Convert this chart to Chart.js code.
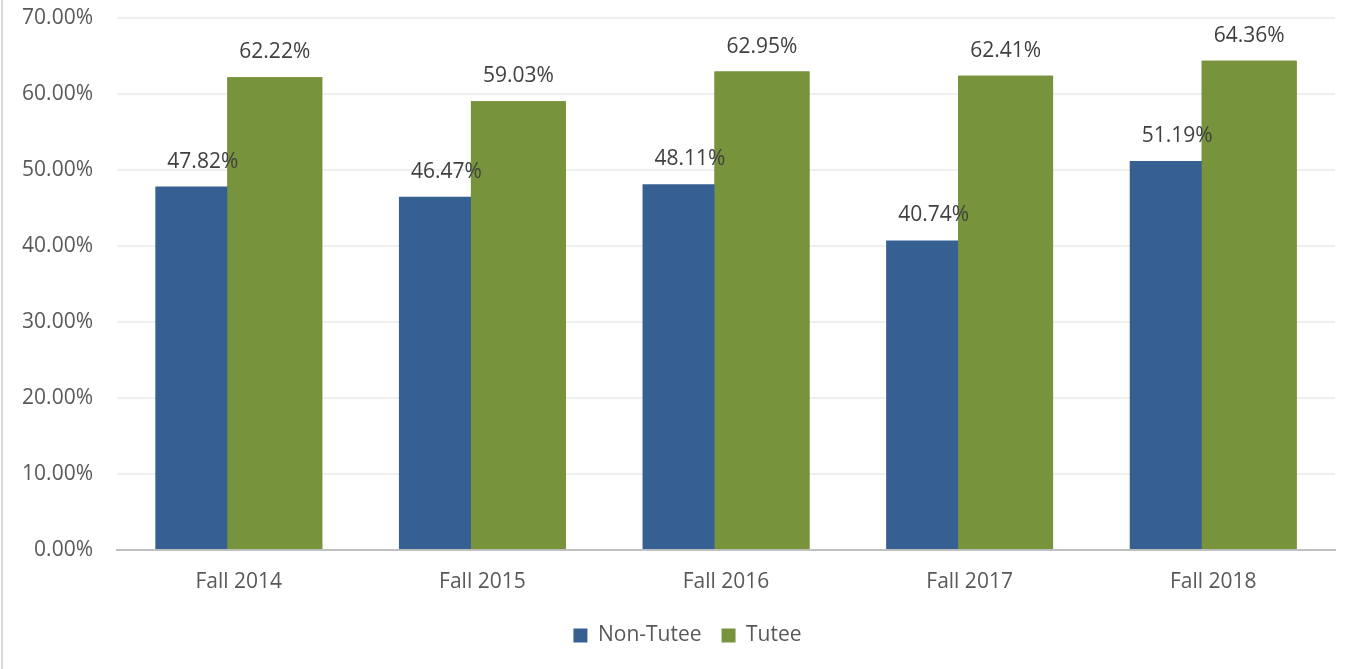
<!DOCTYPE html>
<html><head><meta charset="utf-8">
<script src="https://cdn.jsdelivr.net/npm/chart.js@4"></script>
<style>html,body{margin:0;padding:0;background:#fff}#wrap{width:1358px;height:669px;position:relative}</style>
</head><body><div id="wrap"><canvas id="c" width="1358" height="669"></canvas></div>
<script>
const categories = ["Fall 2014","Fall 2015","Fall 2016","Fall 2017","Fall 2018"];
const nonTutee = [47.82, 46.47, 48.11, 40.74, 51.19];
const tutee = [62.22, 59.03, 62.95, 62.41, 64.36];
const seriesNames = ["Non-Tutee","Tutee"];
const yTicks = [0,10,20,30,40,50,60,70];

const FONT = "'Open Sans', 'DejaVu Sans', sans-serif";

const labelPlugin = {
  id: 'valLabels',
  afterLayout(chart) {
    // centre the legend on the whole figure like the original
    if (chart.legend) { chart.legend.left += 20; chart.legend.right += 20; }
  },
  afterDatasetsDraw(chart) {
    const ctx = chart.ctx;
    // draw the Tutee bars again so they sit over the overlapping Non-Tutee bars (as in Excel)
    chart.getDatasetMeta(1).data.forEach(el => el.draw(ctx, chart.chartArea));
    ctx.save();
    ctx.font = "21px " + FONT;
    ctx.fillStyle = "#404040";
    ctx.textAlign = "center";
    ctx.textBaseline = "middle";
    chart.data.datasets.forEach((ds, i) => {
      chart.getDatasetMeta(i).data.forEach((bar, j) => {
        ctx.fillText(ds.data[j].toFixed(2) + "%", bar.x, bar.y - 25);
      });
    });
    ctx.restore();
  }
};
const borderPlugin = {
  id: 'leftBorder',
  beforeDraw(chart) {
    const ctx = chart.ctx;
    ctx.save();
    ctx.fillStyle = "#d9d9d9";
    ctx.fillRect(1, 0, 2, chart.height);
    ctx.restore();
  }
};

new Chart(document.getElementById('c'), {
  type: 'bar',
  data: {
    labels: categories,
    datasets: [
      {label: seriesNames[0], data: nonTutee, backgroundColor: '#376092', categoryPercentage: 0.591, barPercentage: 1.319},
      {label: seriesNames[1], data: tutee, backgroundColor: '#77933c', categoryPercentage: 0.591, barPercentage: 1.319}
    ]
  },
  options: {
    responsive: false,
    animation: false,
    layout: {padding: {left: 0, right: 23, top: 0, bottom: 13}},
    plugins: {
      tooltip: {enabled: false},
      legend: {
        position: 'bottom',
        labels: {font: {size: 21, family: FONT}, color: '#595959', boxWidth: 14, boxHeight: 14, padding: 20}
      }
    },
    scales: {
      x: {
        grid: {display: false, drawTicks: false},
        border: {display: true, color: '#bfbfbf', width: 2},
        ticks: {font: {size: 21, family: FONT}, color: '#595959', padding: 19},
        afterFit(s) { s.height = 55; }
      },
      y: {
        min: 0, max: 70,
        afterBuildTicks(s) { s.ticks = yTicks.map(v => ({value: v})); },
        grid: {color: '#efefef', lineWidth: 2, drawTicks: false},
        border: {display: false},
        ticks: {font: {size: 21, family: FONT}, color: '#595959', padding: 24,
          callback: v => Number(v).toFixed(2) + '%'},
        afterFit(s) { s.width = 117; s.paddingTop = 18; s.paddingBottom = 0; }
      }
    }
  },
  plugins: [labelPlugin, borderPlugin]
});
</script></body></html>
